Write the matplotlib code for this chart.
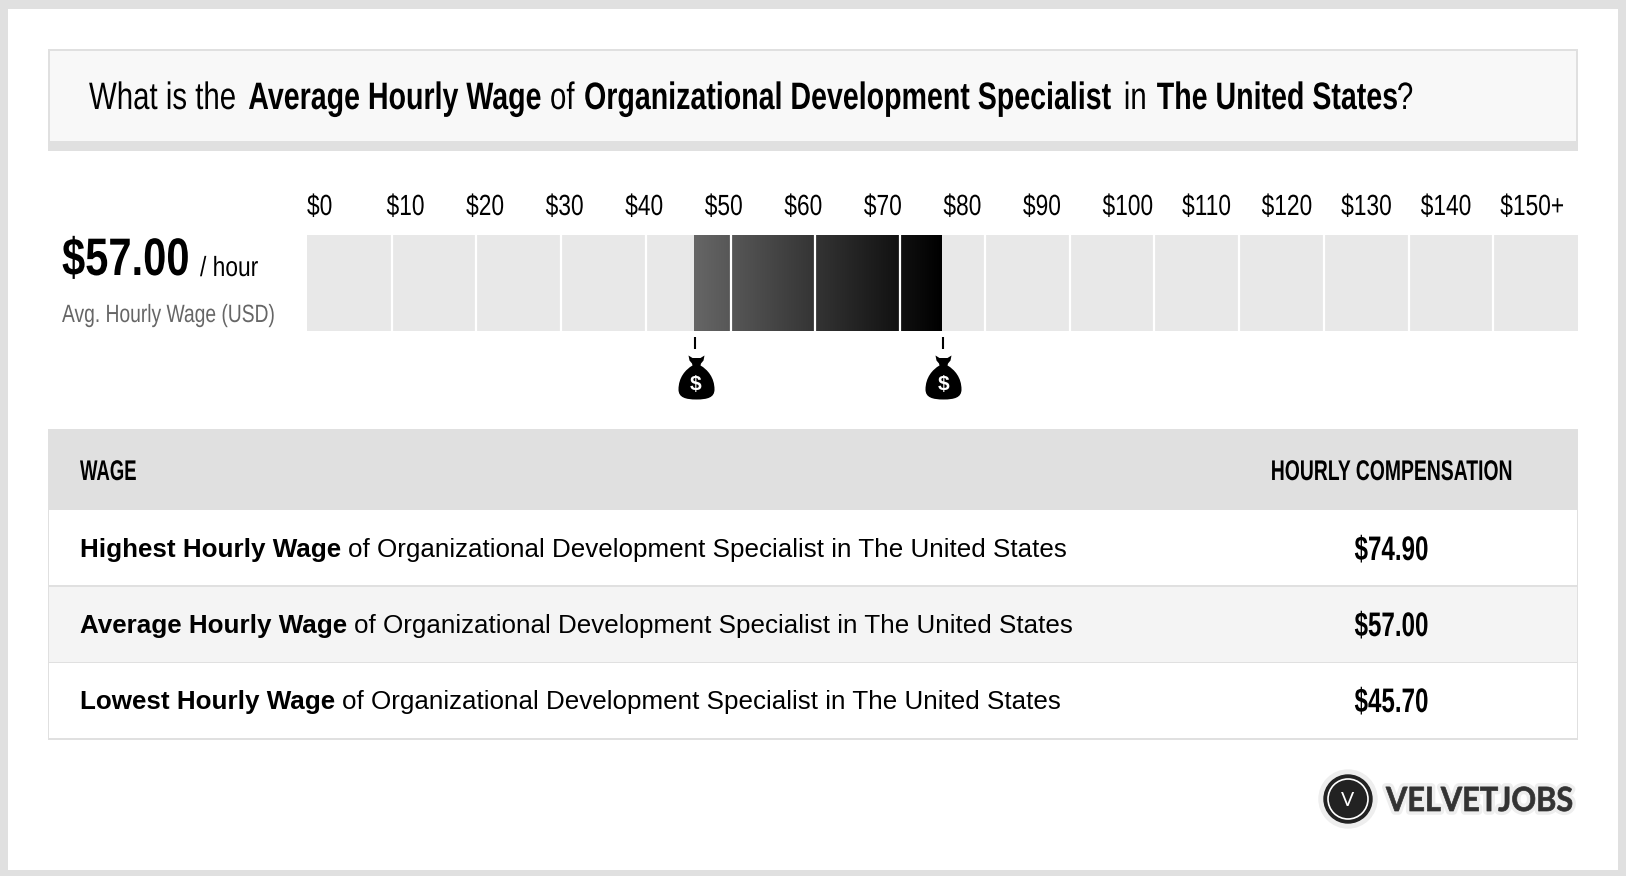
#!/usr/bin/env python3
# Average hourly wage graphic, drawn on a pixel canvas with one data axes for the wage bar
import numpy as np
import matplotlib
matplotlib.use('Agg')
import matplotlib.pyplot as plt
from matplotlib.colors import LinearSegmentedColormap, to_rgba
from matplotlib.path import Path
from matplotlib.patches import Rectangle, Circle
from matplotlib.text import Text
from matplotlib.textpath import TextPath
from matplotlib.transforms import Affine2D, Bbox, ScaledTranslation

# data
job = 'Organizational Development Specialist'
place = 'The United States'
low_wage = 45.70
avg_wage = 57.00
high_wage = 74.90
wage_steps = [0, 10, 20, 30, 40, 50, 60, 70, 80, 90, 100, 110, 120, 130, 140, 150]
tick_labels = ['$0', '$10', '$20', '$30', '$40', '$50', '$60', '$70', '$80', '$90',
               '$100', '$110', '$120', '$130', '$140', '$150+']
row_names = ['Highest Hourly Wage', 'Average Hourly Wage', 'Lowest Hourly Wage']
row_values = [high_wage, avg_wage, low_wage]

W, H = 1626, 876
SANS = ['Liberation Sans']
GREY = '#e0e0e0'


class NarrowText(Text):
    # no condensed face is installed, so squeeze the glyph outlines horizontally
    def __init__(self, *args, xscale=0.78, halo=None, fatten=0, **kwargs):
        super().__init__(*args, **kwargs)
        self.xscale = xscale
        self.halo = halo
        self.fatten = fatten

    def _layout_px(self):
        k = self.get_figure().dpi/72
        path = TextPath((0, 0), self.get_text(), size=self.get_fontsize(),
                        prop=self.get_fontproperties())
        ext = path.get_extents()
        x, y = self.get_transform().transform(self.get_position())
        w = ext.x1*k*self.xscale
        if self.get_ha() == 'center':
            x -= w/2
        return path, k, x, y, ext

    def get_window_extent(self, renderer=None, dpi=None):
        path, k, x, y, ext = self._layout_px()
        return Bbox([[x, y + ext.y0*k], [x + ext.x1*k*self.xscale, y + ext.y1*k]])

    def draw(self, renderer):
        path, k, x, y, ext = self._layout_px()
        tr = Affine2D().scale(k*self.xscale, k).translate(x, y)
        gc = renderer.new_gc()
        gc.set_antialiased(True)
        if self.halo:
            gc.set_foreground(self.halo)
            gc.set_linewidth(self.fatten + 5)
            renderer.draw_path(gc, path, tr, to_rgba(self.halo))
        col = to_rgba(self.get_color())
        gc.set_foreground(col)
        gc.set_linewidth(self.fatten)
        renderer.draw_path(gc, path, tr, col)
        gc.restore()


fig = plt.figure(figsize=(W/100, H/100), dpi=100)
bg = fig.add_axes([0, 0, 1, 1])
bg.set_xlim(0, W)
bg.set_ylim(H, 0)
bg.axis('off')


def rect(x0, y0, x1, y1, color, z=1):
    bg.add_patch(Rectangle((x0, y0), x1-x0, y1-y0, facecolor=color, edgecolor='none', zorder=z))


def ntext(x, y, txt, size, weight='normal', xscale=0.78, color='#000000', ha='left', **kw):
    t = NarrowText(x, y, txt, fontsize=size, family=SANS, fontweight=weight, color=color,
                   ha=ha, va='baseline', zorder=5, xscale=xscale, **kw)
    bg.add_artist(t)
    return t


# frame
rect(0, 0, W, H, GREY, 0)
rect(8, 9, 1618, 870, 'white', 0.5)

# title box
rect(48, 49, 1578, 151, GREY)
rect(50, 51, 1576, 141, '#f8f8f8', 2)
title_parts = [('What is the', 'normal', 13.5), ('Average Hourly Wage', 'bold', 9.5), ('of', 'normal', 9.5),
               (job, 'bold', 13), ('in', 'normal', 12), (place, 'bold', 0), ('?', 'normal', 0)]
xpos = 89
for txt, weight, gap in title_parts:
    t = ntext(xpos, 109, txt, 27.5, weight, xscale=0.748 if weight == 'bold' else 0.77)
    xpos = bg.transData.inverted().transform(t.get_window_extent())[1][0] + gap

# big number
ntext(62, 275, '${:.2f}'.format(avg_wage), 38, 'bold', xscale=0.79)
ntext(200, 276, '/ hour', 20, xscale=0.82)
ntext(62, 322, 'Avg. Hourly Wage (USD)', 18, xscale=0.77, color='#666666')

# wage bar
ax = fig.add_axes([307/W, 1-331/H, (1578-307)/W, 96/H])
ax.barh(0.5, wage_steps[-1], height=1, left=0, color='#e8e8e8', zorder=1)
grad = np.linspace(0, 1, 256).reshape(1, -1)
ax.imshow(grad, extent=(low_wage, high_wage, 0, 1), aspect='auto', zorder=2,
          cmap=LinearSegmentedColormap.from_list('g', ['#666666', '#000000']))
ax.set_xlim(wage_steps[0], wage_steps[-1])
ax.set_ylim(0, 1)
ax.axis('off')
ax.vlines(wage_steps[1:-1], 0, 1, color='white', lw=1.6, zorder=3)

# labels run at a tighter pitch than the bar segments
for i, lab in enumerate(tick_labels):
    ntext(307 + i*79.55, 215, lab, 21, xscale=0.78)

# money bag markers
bag = Path([(-8, -22), (-4, -19.5), (4, -19.5), (8, -22), (7, -17), (4.5, -14), (4, -12),
            (11, -8), (18, 0), (18, 12), (18, 20), (11, 22), (0, 22),
            (-11, 22), (-18, 20), (-18, 12), (-18, 0), (-11, -8), (-4, -12),
            (-4.5, -14), (-7, -17), (-8, -22), (-8, -22)],
           [Path.MOVETO, Path.LINETO, Path.LINETO, Path.LINETO, Path.LINETO, Path.LINETO, Path.LINETO,
            Path.CURVE4, Path.CURVE4, Path.CURVE4, Path.CURVE4, Path.CURVE4, Path.CURVE4,
            Path.CURVE4, Path.CURVE4, Path.CURVE4, Path.CURVE4, Path.CURVE4, Path.CURVE4,
            Path.LINETO, Path.LINETO, Path.LINETO, Path.CLOSEPOLY])
bag = bag.transformed(Affine2D().scale(1, -1))
for w in [low_wage, high_wage]:
    off_tick = ScaledTranslation(1/100, 0, fig.dpi_scale_trans)
    ax.plot([w, w], [-6/96, -18/96], color='black', lw=1.5, solid_capstyle='butt', clip_on=False,
            zorder=5, transform=ax.transData + off_tick)
    ax.plot([w], [-46/96], marker=bag, ms=44*0.72, color='black', mew=0, clip_on=False, zorder=6,
            transform=ax.transData + ScaledTranslation(1.5/100, 0, fig.dpi_scale_trans))
    ax.annotate('$', (w, 0), xytext=(1.5, -54), textcoords='offset pixels', fontsize=15, family=SANS,
                fontweight='bold', color='white', ha='center', va='center', zorder=7,
                annotation_clip=False)

# table
rect(48, 429, 1578, 510, GREY)
row_tops = [510, 587, 663]
row_bots = [586, 663, 739]
text_base = [557, 633, 709]
value_base = [560, 636, 712]
for i in range(3):
    fill = '#f4f4f4' if i == 1 else 'white'
    rect(48, row_tops[i], 1578, row_bots[i]+1, GREY, 1)
    rect(49, row_tops[i], 1577, row_bots[i]-1, fill, 2)
    t = bg.text(80, text_base[i], row_names[i], fontsize=18.7, family=SANS, fontweight='bold',
                va='baseline', zorder=5)
    xend = bg.transData.inverted().transform(t.get_window_extent(fig.canvas.get_renderer()))[1][0]
    bg.text(xend + 7, text_base[i], 'of ' + job + ' in ' + place, fontsize=18.7, family=SANS,
            va='baseline', zorder=5)
    ntext(1391, value_base[i], '${:.2f}'.format(row_values[i]), 24.5, 'bold', xscale=0.71, ha='center')
ntext(80, 480, 'WAGE', 20.5, 'bold', xscale=0.65)
ntext(1391, 480, 'HOURLY COMPENSATION', 20.5, 'bold', xscale=0.68, ha='center')

# logo
bg.add_patch(Circle((1348, 799), 29, color='#eeeeee', zorder=3))
bg.add_patch(Circle((1348, 799), 24, color='#222222', zorder=4))
bg.add_patch(Circle((1348, 799), 20, facecolor='none', edgecolor='white', lw=1.2, zorder=5))
bg.text(1348, 806, 'V', fontsize=14, family=['Lato'], color='white', ha='center', va='baseline', zorder=6)
t = NarrowText(1386, 811, 'VELVETJOBS', fontsize=24, family=['Lato'], fontweight='bold', color='#333333',
               va='baseline', zorder=6, xscale=0.92, halo='#eeeeee', fatten=0.5)
bg.add_artist(t)

fig.savefig('out.png', dpi=100)
